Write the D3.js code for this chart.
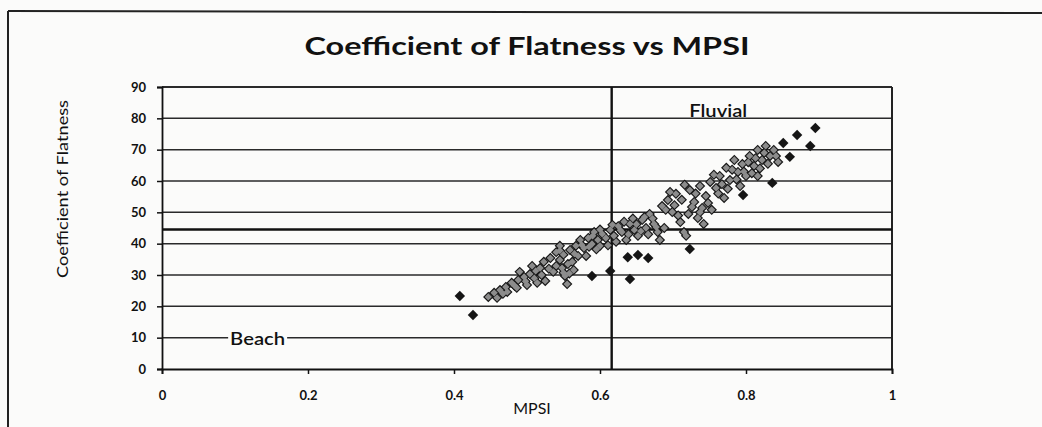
<!DOCTYPE html>
<html>
<head>
<meta charset="utf-8">
<script src="https://cdn.jsdelivr.net/npm/d3@7"></script>
<style>
  body { margin: 0; background: #fbfbfa; }
  svg { display: block; }
  text { font-family: Lato, "Open Sans", sans-serif; fill: #111; }
</style>
</head>
<body>
<div class="canvas"></div>
<script>
// values: [MPSI, coefficient of flatness]
const tailPoints = [
  [0.447, 23.0], [0.455, 24.3], [0.463, 25.2], [0.471, 26.2], [0.479, 27.5],
  [0.488, 28.4], [0.496, 29.4], [0.504, 30.3], [0.512, 31.3], [0.518, 32.2],
  [0.459, 22.7], [0.473, 24.6], [0.486, 25.9], [0.500, 26.8], [0.514, 27.5],
  [0.525, 28.1], [0.490, 31.0], [0.507, 32.9], [0.523, 34.2], [0.467, 24.0],
  [0.483, 26.6], [0.498, 28.0], [0.510, 29.0], [0.520, 30.0], [0.530, 32.0]
];
const beachCluster = [
  [0.532, 35.4], [0.540, 37.3], [0.545, 34.8], [0.548, 32.2], [0.552, 29.7],
  [0.555, 27.1], [0.559, 38.0], [0.562, 34.2], [0.567, 39.3], [0.570, 36.1],
  [0.573, 41.2], [0.578, 38.6], [0.584, 41.8], [0.589, 39.9], [0.592, 43.7],
  [0.597, 41.2], [0.603, 43.1], [0.564, 31.6], [0.540, 32.9], [0.545, 39.3],
  [0.581, 36.1], [0.536, 31.0], [0.600, 39.3], [0.550, 36.5], [0.556, 33.5],
  [0.558, 30.5], [0.565, 36.8], [0.575, 39.6], [0.585, 39.0], [0.590, 42.5],
  [0.595, 38.2], [0.600, 44.5], [0.550, 30.7], [0.545, 37.8]
];
const middleCluster = [
  [0.608, 41.8], [0.614, 44.4], [0.619, 42.5], [0.625, 45.6], [0.630, 43.7],
  [0.636, 41.2], [0.641, 46.3], [0.647, 44.4], [0.652, 42.5], [0.658, 47.6],
  [0.663, 45.0], [0.668, 49.5], [0.674, 46.3], [0.679, 43.7], [0.682, 41.2],
  [0.688, 45.0], [0.611, 39.5], [0.617, 46.0], [0.622, 40.6], [0.628, 44.3],
  [0.633, 47.0], [0.639, 43.0], [0.645, 48.0], [0.650, 46.2], [0.656, 44.0],
  [0.661, 48.5], [0.666, 43.0], [0.672, 48.0], [0.677, 45.3]
];
const fluvialCluster = [
  [0.685, 52.0], [0.693, 53.9], [0.699, 50.1], [0.704, 55.9], [0.710, 46.9],
  [0.715, 43.7], [0.721, 49.5], [0.723, 57.1], [0.729, 53.3], [0.734, 48.2],
  [0.740, 51.4], [0.742, 46.3], [0.745, 55.2], [0.751, 59.7], [0.753, 50.8],
  [0.759, 57.8], [0.764, 61.6], [0.770, 54.6], [0.737, 58.4], [0.718, 42.5],
  [0.773, 64.2], [0.778, 60.3], [0.784, 66.7], [0.789, 62.9], [0.795, 65.4],
  [0.800, 61.6], [0.805, 68.0], [0.811, 64.8], [0.816, 69.9], [0.822, 66.7],
  [0.827, 71.2], [0.833, 68.0], [0.838, 69.9], [0.844, 66.1], [0.816, 61.6],
  [0.792, 58.4], [0.690, 50.8], [0.696, 56.5], [0.702, 52.3], [0.707, 49.0],
  [0.712, 54.0], [0.716, 58.8], [0.726, 51.7], [0.731, 56.0], [0.737, 50.0],
  [0.748, 53.0], [0.756, 62.0], [0.762, 56.0], [0.767, 59.0], [0.775, 57.5],
  [0.781, 63.6], [0.787, 60.5], [0.797, 63.0], [0.803, 66.0], [0.808, 62.5],
  [0.813, 67.3], [0.819, 64.0], [0.825, 69.0], [0.830, 65.5], [0.841, 68.0]
];
const loosePoints = [
  [0.408, 23.3], [0.426, 17.2], [0.589, 29.7], [0.614, 31.3], [0.641, 28.7],
  [0.638, 35.7], [0.652, 36.4], [0.666, 35.4], [0.723, 38.3], [0.796, 55.5],
  [0.836, 59.4], [0.851, 72.1], [0.870, 74.7], [0.895, 76.9], [0.888, 71.2],
  [0.860, 67.7]
];

const xTicks = [0, 0.2, 0.4, 0.6, 0.8, 1];
const yTicks = [0, 10, 20, 30, 40, 50, 60, 70, 80, 90];
const mpsiSplit = 0.616;
const flatSplit = 44.5;
const zoneLabels = [
  { name: 'Beach', mpsi: 0.131, flat: 7.6 },
  { name: 'Fluvial', mpsi: 0.762, flat: 80.4 }
];

const blobPoints = tailPoints.concat(beachCluster, middleCluster, fluvialCluster);
const allPoints = blobPoints.concat(loosePoints);

const width = 1042, height = 427;
const m = { left: 162, right: 150, top: 87, bottom: 58 };

const svg = d3.select('.canvas')
  .append('svg')
    .attr('width', width)
    .attr('height', height);

// scanned page frame
svg.append('line')
  .attr('x1', 8).attr('y1', 11).attr('x2', width).attr('y2', 13)
  .attr('stroke', '#222').attr('stroke-width', 2);
svg.append('line')
  .attr('x1', 8).attr('y1', 11).attr('x2', 8).attr('y2', height)
  .attr('stroke', '#222').attr('stroke-width', 2);

const x = d3.scaleLinear().domain([0, 1]).range([m.left, width - m.right]);
const y = d3.scaleLinear().domain([0, 90]).range([height - m.bottom, m.top]);

const graph = svg.append('g');

// gridlines
graph.selectAll('.grid')
  .data(yTicks.slice(1))
  .enter()
  .append('line')
    .attr('class', 'grid')
    .attr('x1', x(0)).attr('x2', x(1))
    .attr('y1', d => y(d)).attr('y2', d => y(d))
    .attr('stroke', '#2a2a2a')
    .attr('stroke-width', d => d == 90 ? 2 : 1.5);

// right edge of plot
graph.append('line')
  .attr('x1', x(1)).attr('x2', x(1))
  .attr('y1', y(90)).attr('y2', y(0))
  .attr('stroke', '#222').attr('stroke-width', 2);

// axes
const xAxis = d3.axisBottom(x)
  .tickValues(xTicks)
  .tickFormat(d => d)
  .tickSize(5)
  .tickPadding(17);
const yAxis = d3.axisLeft(y)
  .tickValues(yTicks)
  .tickSize(5)
  .tickPadding(11);

const gx = svg.append('g')
  .attr('transform', `translate(0, ${y(0)})`)
  .call(xAxis);
const gy = svg.append('g')
  .attr('transform', `translate(${x(0)}, 0)`)
  .call(yAxis);

[gx, gy].forEach(g => {
  g.select('.domain').attr('stroke', '#111').attr('stroke-width', 1.8);
  g.selectAll('.tick line').attr('stroke', '#111').attr('stroke-width', 1.5);
  g.selectAll('.tick text')
    .attr('font-family', 'Lato, sans-serif')
    .attr('font-size', 13)
    .attr('font-weight', 'bold')
    .attr('fill', '#111');
});

// Beach / Fluvial dividers
graph.append('line')
  .attr('x1', x(mpsiSplit)).attr('x2', x(mpsiSplit))
  .attr('y1', y(90)).attr('y2', y(0))
  .attr('stroke', '#111').attr('stroke-width', 2.4);
graph.append('line')
  .attr('x1', x(0)).attr('x2', x(1))
  .attr('y1', y(flatSplit)).attr('y2', y(flatSplit))
  .attr('stroke', '#111').attr('stroke-width', 2.4);

// markers: dark outline pass then grey fill pass, so overlaps read as grey blobs
const diamond = d3.symbol().type(d3.symbolDiamond2).size(70);
const diamondInner = d3.symbol().type(d3.symbolDiamond2).size(34);

graph.selectAll('.mk-out')
  .data(allPoints)
  .enter()
  .append('path')
    .attr('class', 'mk-out')
    .attr('d', diamond)
    .attr('transform', d => `translate(${x(d[0])}, ${y(d[1])})`)
    .attr('fill', '#151515');

graph.selectAll('.mk-in')
  .data(blobPoints)
  .enter()
  .append('path')
    .attr('class', 'mk-in')
    .attr('d', diamondInner)
    .attr('transform', d => `translate(${x(d[0])}, ${y(d[1])})`)
    .attr('fill', '#8c8c8c');

// zone labels
zoneLabels.forEach(z => {
  const t = graph.append('text')
    .attr('x', x(z.mpsi))
    .attr('y', y(z.flat))
    .attr('text-anchor', 'middle')
    .attr('font-size', 17)
    .attr('font-weight', 600)
    .attr('fill', '#222')
    .attr('textLength', z.name == 'Beach' ? 55 : 58)
    .attr('lengthAdjust', 'spacingAndGlyphs')
    .text(z.name);
  if (z.name == 'Beach') {
    const b = t.node().getBBox();
    graph.insert('rect', 'text')
      .attr('x', b.x - 2).attr('y', b.y + 2)
      .attr('width', b.width + 4).attr('height', b.height - 4)
      .attr('fill', '#fbfbfa');
  }
});

// titles
svg.append('text')
  .attr('x', 527)
  .attr('y', 55)
  .attr('text-anchor', 'middle')
  .attr('font-size', 25)
  .attr('font-weight', 'bold')
  .attr('textLength', 445)
  .attr('lengthAdjust', 'spacingAndGlyphs')
  .text('Coefficient of Flatness vs MPSI');

svg.append('text')
  .attr('x', 532)
  .attr('y', 414)
  .attr('text-anchor', 'middle')
  .attr('font-size', 16)
  .text('MPSI');

svg.append('text')
  .attr('transform', 'translate(68, 189) rotate(-90)')
  .attr('text-anchor', 'middle')
  .attr('font-size', 15)
  .attr('textLength', 178)
  .attr('lengthAdjust', 'spacingAndGlyphs')
  .text('Coefficient of Flatness');
</script>
</body>
</html>
